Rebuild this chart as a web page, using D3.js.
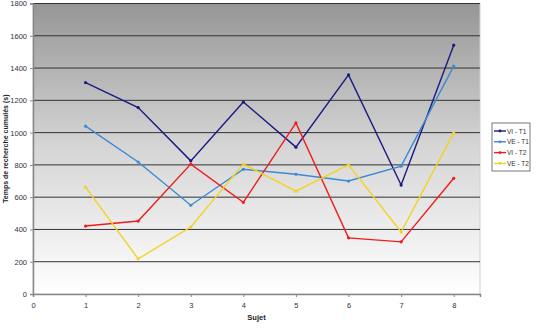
<!DOCTYPE html>
<html>
<head>
<meta charset="utf-8">
<script src="https://cdn.jsdelivr.net/npm/d3@7"></script>
<style>
  body { margin: 0; background: #fff; }
  text { font-family: "Liberation Sans", Arial, sans-serif; }
</style>
</head>
<body>
<svg id="chart" width="542" height="329"></svg>
<script>
// Data
// ----
var subjects = [1, 2, 3, 4, 5, 6, 7, 8];
var viT1 = [1310, 1155, 825, 1190, 910, 1358, 675, 1542];
var veT1 = [1040, 818, 550, 773, 742, 700, 792, 1412];
var viT2 = [421, 452, 805, 568, 1060, 348, 323, 717];
var veT2 = [662, 218, 415, 805, 637, 800, 384, 998];
var seriesNames = ["VI - T1", "VE - T1", "VI - T2", "VE - T2"];
var seriesColors = ["#1a1a80", "#3a8ad6", "#ee1c1c", "#f5d21e"];
var yTicks = [0, 200, 400, 600, 800, 1000, 1200, 1400, 1600, 1800];
var xTicks = [0, 1, 2, 3, 4, 5, 6, 7, 8];

var series = [viT1, veT1, viT2, veT2].map(function (vals, i) {
  return { name: seriesNames[i], color: seriesColors[i],
           points: vals.map(function (v, j) { return { x: subjects[j], y: v }; }) };
});

// Layout
// ------
var svg = d3.select("#chart");
var plot = { left: 33, right: 480, top: 3.5, bottom: 294 };

var xScale = d3.scaleLinear().domain([0, 8.5]).range([plot.left, plot.right]);
var yScale = d3.scaleLinear().domain([0, 1800]).range([plot.bottom, plot.top]);

// Background gradient
// -------------------
var grad = svg.append("defs").append("linearGradient")
  .attr("id", "bg").attr("x1", 0).attr("y1", 0).attr("x2", 0).attr("y2", 1);
grad.append("stop").attr("offset", "0%").attr("stop-color", "#969696");
grad.append("stop").attr("offset", "50%").attr("stop-color", "#d6d6d6");
grad.append("stop").attr("offset", "100%").attr("stop-color", "#ffffff");

svg.append("rect")
  .attr("x", plot.left).attr("y", plot.top)
  .attr("width", plot.right - plot.left).attr("height", plot.bottom - plot.top)
  .attr("fill", "url(#bg)")
  .attr("stroke", "#d0d0d0").attr("stroke-width", 1);

// Gridlines
// ---------
svg.append("g").selectAll("line")
  .data(yTicks.filter(function (d) { return d > 0; }))
  .enter().append("line")
  .attr("x1", plot.left).attr("x2", plot.right)
  .attr("y1", function (d) { return yScale(d); })
  .attr("y2", function (d) { return yScale(d); })
  .attr("stroke", "#333").attr("stroke-width", 1);

// Axes
// ----
var yAxis = svg.append("g")
  .attr("transform", "translate(" + plot.left + ",0)")
  .call(d3.axisLeft(yScale).tickValues(yTicks).tickFormat(d3.format("d"))
    .tickSize(3).tickPadding(3));
var xAxis = svg.append("g")
  .attr("transform", "translate(0," + plot.bottom + ")")
  .call(d3.axisBottom(xScale).tickValues(xTicks).tickFormat(d3.format("d"))
    .tickSize(3).tickPadding(6));

[yAxis, xAxis].forEach(function (ax) {
  ax.select(".domain").attr("stroke", "#888").attr("stroke-width", 1.5);
  ax.selectAll(".tick line").attr("stroke", "#888");
  ax.selectAll(".tick text").attr("fill", "#333").style("font-size", "7.5px");
});

// Axis titles
// -----------
svg.append("text")
  .attr("transform", "translate(8," + ((plot.top + plot.bottom) / 2) + ") rotate(-90)")
  .attr("text-anchor", "middle")
  .style("font-size", "7px").style("font-weight", "bold").attr("fill", "#222")
  .text("Temps de recherche cumulés (s)");

svg.append("text")
  .attr("x", (plot.left + plot.right) / 2).attr("y", 320)
  .attr("text-anchor", "middle")
  .style("font-size", "7.5px").style("font-weight", "bold").attr("fill", "#222")
  .text("Sujet");

// Lines
// -----
var line = d3.line()
  .x(function (d) { return xScale(d.x); })
  .y(function (d) { return yScale(d.y); });

var groups = svg.append("g").selectAll(".series")
  .data(series).enter().append("g").attr("class", "series");

groups.append("path")
  .attr("d", function (d) { return line(d.points); })
  .attr("fill", "none")
  .attr("stroke", function (d) { return d.color; })
  .attr("stroke-width", 1.4);

groups.selectAll("circle")
  .data(function (d) { return d.points.map(function (p) { return { p: p, c: d.color }; }); })
  .enter().append("circle")
  .attr("cx", function (d) { return xScale(d.p.x); })
  .attr("cy", function (d) { return yScale(d.p.y); })
  .attr("r", 1.6)
  .attr("fill", function (d) { return d.c; });

// Legend
// ------
var legend = svg.append("g").attr("transform", "translate(492,123)");
legend.append("rect")
  .attr("width", 38).attr("height", 48)
  .attr("fill", "#fff").attr("stroke", "#555").attr("stroke-width", 0.8);

var items = legend.selectAll(".item").data(series).enter().append("g")
  .attr("transform", function (d, i) { return "translate(0," + (8 + i * 10.8) + ")"; });
items.append("line")
  .attr("x1", 2).attr("x2", 14).attr("y1", 0).attr("y2", 0)
  .attr("stroke", function (d) { return d.color; }).attr("stroke-width", 1.4);
items.append("circle")
  .attr("cx", 8).attr("cy", 0).attr("r", 1.4)
  .attr("fill", function (d) { return d.color; });
items.append("text")
  .attr("x", 15).attr("y", 2.5)
  .style("font-size", "6.5px").attr("fill", "#333")
  .text(function (d) { return d.name; });
</script>
</body>
</html>
